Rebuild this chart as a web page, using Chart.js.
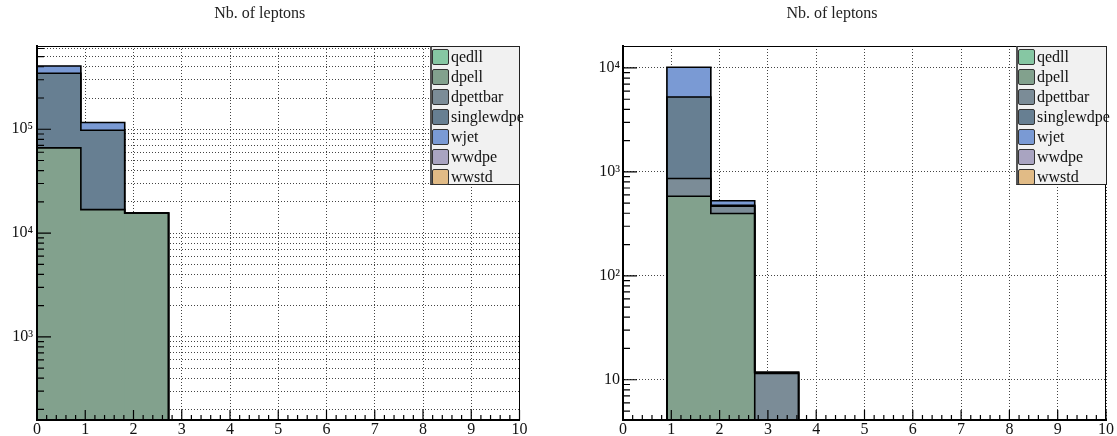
<!DOCTYPE html>
<html>
<head>
<meta charset="utf-8">
<script src="https://cdn.jsdelivr.net/npm/chart.js@4.4.1/dist/chart.umd.min.js"></script>
<style>
html,body{margin:0;padding:0;background:#fff;}
body{width:1117px;height:436px;position:relative;overflow:hidden;font-family:"Liberation Serif","DejaVu Serif",serif;}
.wrap{position:absolute;top:0;height:436px;}
.legend{position:absolute;top:46px;height:139px;background:#f1f1f1;border:1px solid #222;border-left:2px solid #555;box-sizing:border-box;}
.row{height:20px;display:flex;align-items:center;white-space:nowrap;font-size:16px;color:#111;line-height:20px;}
.sw{width:17px;height:16px;box-sizing:border-box;border:1.5px solid #333;border-radius:2px;margin-left:0px;margin-right:2px;flex:none;}
</style>
</head>
<body>
<div class="wrap" style="left:0;width:558px;"><canvas id="c1"></canvas></div>
<div class="wrap" style="left:558px;width:559px;"><canvas id="c2"></canvas></div>
<div class="legend" id="leg1" style="left:430px;width:90px;"></div>
<div class="legend" id="leg2" style="left:1016px;width:91px;"></div>
<script>
// ---------- data ----------
const titleText = 'Nb. of leptons';
const binEdges   = [0, 0.9091, 1.8182, 2.7273, 3.6364];   // bins of width 10/11 on [0,10]
const binCenters = [0.4545, 1.3636, 2.2727, 3.1818];
const seriesNames = ['qedll', 'dpell', 'dpettbar', 'singlewdpe', 'wjet', 'wwdpe', 'wwstd'];
const seriesColors = ['#86c7a3', '#82a18d', '#7b8c97', '#677f92', '#7a9ad4', '#a9a4c1', '#e1bb86'];
const histFloor = 1e-3;   // "zero" level of a histogram on the log axis

// left panel
const leftQedll      = [null, null, null, null];
const leftDpell      = [66100, 16800, 15600, null];
const leftDpettbar   = [null, null, null, null];
const leftSinglewdpe = [279900, 81000, null, null];
const leftWjet       = [61000, 18200, null, null];
const leftWwdpe      = [null, null, null, null];
const leftWwstd      = [null, null, null, null];

// right panel
const rightQedll      = [null, null, null, null];
const rightDpell      = [null, 584, 398, null];
const rightDpettbar   = [null, 281, 70, 11.5];
const rightSinglewdpe = [null, 4395, 10, 0.3];
const rightWjet       = [null, 4890, 49, null];
const rightWwdpe      = [null, null, null, null];
const rightWwstd      = [null, null, null, null];

const xTickLabels = ['0','1','2','3','4','5','6','7','8','9','10'];
const leftYTicks = [200,300,400,500,600,700,800,900,
                    1000,2000,3000,4000,5000,6000,7000,8000,9000,
                    10000,20000,30000,40000,50000,60000,70000,80000,90000,
                    100000,200000,300000,400000,500000,600000];
const rightYTicks = [5,6,7,8,9,
                     10,20,30,40,50,60,70,80,90,
                     100,200,300,400,500,600,700,800,900,
                     1000,2000,3000,4000,5000,6000,7000,8000,9000,
                     10000];
const leftYRange = [158, 634000];
const rightYRange = [4.1, 16270];

// ---------- helpers ----------
const FONT = "'Liberation Serif', 'DejaVu Serif', serif";
Chart.defaults.font.family = FONT;
Chart.defaults.color = '#111';
const SUP = {'0':'\u2070','1':'\u00b9','2':'\u00b2','3':'\u00b3','4':'\u2074','5':'\u2075','6':'\u2076','7':'\u2077','8':'\u2078','9':'\u2079'};
function isDecade(v){ const l = Math.log10(v); return Math.abs(l - Math.round(l)) < 1e-9; }
function decadeLabel(v){
  if (!isDecade(v)) return '';
  const e = Math.round(Math.log10(v));
  if (e === 1) return '10';
  return '10' + String(e).split('').map(c => SUP[c]).join('');
}

const rootTicks = {
  id: 'rootTicks',
  afterDraw(chart) {
    const {ctx, chartArea: a, scales} = chart;
    ctx.save();
    ctx.strokeStyle = '#000';
    ctx.lineWidth = 1;
    ctx.beginPath();
    ctx.moveTo(a.left, Math.round(a.top) + 0.5);
    ctx.lineTo(a.right, Math.round(a.top) + 0.5);
    ctx.moveTo(Math.round(a.right) - 0.5, a.top);
    ctx.lineTo(Math.round(a.right) - 0.5, a.bottom);
    ctx.stroke();
    ctx.lineWidth = 1.2;
    const ys = scales.y;
    ctx.beginPath();
    ys.ticks.forEach(t => {
      const p = ys.getPixelForValue(t.value);
      if (p < a.top - 0.5 || p > a.bottom + 0.5) return;
      const len = isDecade(t.value) ? 14 : 7;
      ctx.moveTo(a.left, p);
      ctx.lineTo(a.left + len, p);
    });
    ctx.stroke();
    const xs = scales.x;
    ctx.beginPath();
    for (let k = 0; k <= 50; k++) {
      const v = k * 0.2;
      const p = xs.getPixelForValue(v);
      const len = (k % 5 === 0) ? 10 : 5;
      ctx.moveTo(p, a.bottom);
      ctx.lineTo(p, a.bottom - len);
    }
    ctx.stroke();
    ctx.restore();
  }
};

function makeDatasets(arrs) {
  // filled stacked bars
  const bars = seriesNames.map((name, i) => ({
    type: 'bar',
    label: name,
    data: binCenters.map((c, j) => ({x: c, y: arrs[i][j]})),
    backgroundColor: seriesColors[i],
    borderWidth: 0,
    barPercentage: 1.0,
    categoryPercentage: 1.0,
    yAxisID: 'y',
    order: 0
  }));
  // histogram step outlines of each cumulative layer (as ROOT draws a THStack)
  const outlines = [];
  const cum = binCenters.map(() => 0);
  seriesNames.forEach((name, i) => {
    arrs[i].forEach((v, j) => { cum[j] += (v || 0); });
    if (!arrs[i].some(v => v !== null)) return;
    const lvl = cum.map(c => c > 0 ? c : histFloor);
    const pts = [{x: binEdges[0], y: histFloor}];
    lvl.forEach((c, j) => pts.push({x: binEdges[j], y: c}));
    pts.push({x: binEdges[binEdges.length - 1], y: histFloor});
    outlines.push({
      type: 'line',
      label: name + ' outline',
      data: pts,
      stepped: 'before',
      borderColor: '#000',
      borderWidth: 1.6,
      pointRadius: 0,
      fill: false,
      yAxisID: 'yLine',
      order: -1
    });
  });
  return bars.concat(outlines);
}

function makeChart(id, arrs, yTicks, yRange, yWidth, rightPad, labelPad, allMinorGrid) {
  return new Chart(document.getElementById(id), {
    type: 'bar',
    data: { datasets: makeDatasets(arrs) },
    options: {
      responsive: true,
      maintainAspectRatio: false,
      animation: false,
      layout: { padding: { left: 0, right: rightPad, top: 0, bottom: 0 } },
      plugins: {
        legend: { display: false },
        tooltip: { enabled: false },
        title: {
          display: true, text: titleText, color: '#222',
          font: { family: FONT, size: 16, weight: 'normal', lineHeight: 1.2 },
          padding: { top: 4, bottom: 22.8 }
        }
      },
      scales: {
        x: {
          type: 'linear', min: 0, max: 10, stacked: true, offset: false,
          afterFit: (s) => { s.height = 16; },
          ticks: {
            stepSize: 1, padding: 0, color: '#111', autoSkip: false, maxRotation: 0,
            font: { family: FONT, size: 16, lineHeight: 1.2 },
            callback: (v) => xTickLabels[Math.round(v)] ?? ''
          },
          grid: { color: '#444', lineWidth: 1, drawTicks: false, offset: false },
          border: { display: true, color: '#000', width: 2, dash: [1, 2], z: 1 }
        },
        y: {
          type: 'logarithmic', min: yRange[0], max: yRange[1], stacked: true,
          afterFit: (s) => { s.width = yWidth; },
          afterBuildTicks: (s) => { s.ticks = yTicks.map(v => ({ value: v, major: isDecade(v) })); },
          ticks: {
            autoSkip: false, padding: labelPad, color: '#111',
            font: { family: FONT, size: 16, lineHeight: 1.2 },
            callback: (v) => decadeLabel(v)
          },
          grid: {
            drawTicks: false, lineWidth: 1,
            color: (ctx) => (allMinorGrid || (ctx.tick && isDecade(ctx.tick.value))) ? '#444' : 'rgba(0,0,0,0)'
          },
          border: { display: true, color: '#000', width: 2, dash: [1, 2], z: 1 }
        },
        yLine: {
          type: 'logarithmic', min: yRange[0], max: yRange[1], stacked: false,
          display: false
        }
      }
    },
    plugins: [rootTicks]
  });
}

makeChart('c1',
  [leftQedll, leftDpell, leftDpettbar, leftSinglewdpe, leftWjet, leftWwdpe, leftWwstd],
  leftYTicks, leftYRange, 37, 38.5, 4, true);
makeChart('c2',
  [rightQedll, rightDpell, rightDpettbar, rightSinglewdpe, rightWjet, rightWwdpe, rightWwstd],
  rightYTicks, rightYRange, 65, 11, 3, false);

// legends
function buildLegend(id) {
  const el = document.getElementById(id);
  seriesNames.forEach((n, i) => {
    const row = document.createElement('div');
    row.className = 'row';
    const sw = document.createElement('div');
    sw.className = 'sw';
    sw.style.background = seriesColors[i];
    const tx = document.createElement('span');
    tx.textContent = n;
    row.appendChild(sw); row.appendChild(tx);
    el.appendChild(row);
  });
}
buildLegend('leg1');
buildLegend('leg2');
</script>
</body>
</html>
